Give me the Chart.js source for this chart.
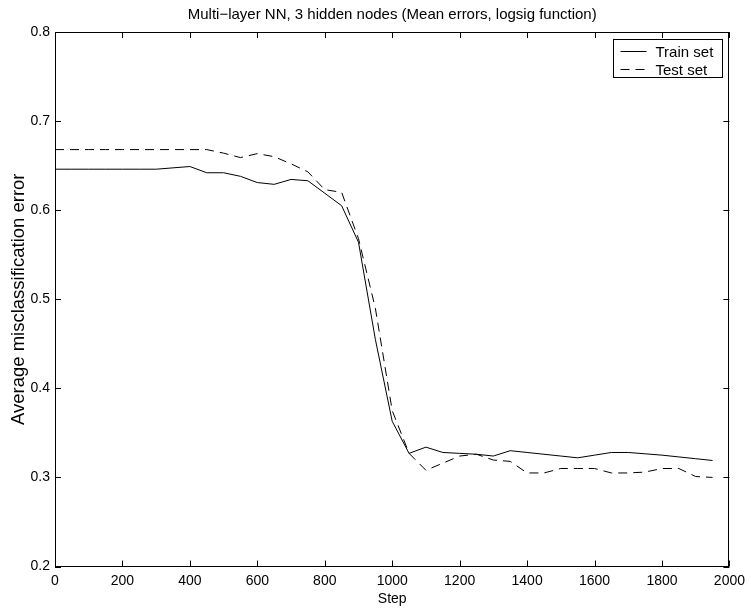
<!DOCTYPE html>
<html>
<head>
<meta charset="utf-8">
<script src="https://cdn.jsdelivr.net/npm/chart.js@4.4.1/dist/chart.umd.min.js"></script>
<style>
  html, body { margin: 0; padding: 0; background: #fff; }
  #wrap { width: 751px; height: 610px; }
</style>
</head>
<body>
<div id="wrap"><canvas id="nnChart" width="751" height="610"></canvas></div>
<script>
const steps = [0, 50, 100, 150, 200, 250, 300, 350, 400, 450,
               500, 550, 600, 650, 700, 750, 800, 850, 900, 950,
               1000, 1050, 1100, 1150, 1200, 1250, 1300, 1350, 1400, 1450,
               1500, 1550, 1600, 1650, 1700, 1750, 1800, 1850, 1900, 1950];

const trainErr = [0.646, 0.646, 0.646, 0.646, 0.646, 0.646, 0.646, 0.6475, 0.649, 0.642,
                  0.642, 0.638, 0.631, 0.629, 0.6345, 0.633, 0.619, 0.605, 0.564, 0.455,
                  0.363, 0.327, 0.334, 0.328, 0.327, 0.326, 0.324, 0.330, 0.328, 0.326,
                  0.324, 0.322, 0.325, 0.328, 0.328, 0.3265, 0.325, 0.323, 0.321, 0.319];

const testErr = [0.668, 0.668, 0.668, 0.668, 0.668, 0.668, 0.668, 0.668, 0.668, 0.668,
                 0.664, 0.659, 0.6635, 0.660, 0.652, 0.643, 0.623, 0.620, 0.568, 0.49,
                 0.375, 0.327, 0.308, 0.316, 0.324, 0.326, 0.3195, 0.318, 0.305, 0.305,
                 0.31, 0.31, 0.31, 0.305, 0.305, 0.306, 0.31, 0.31, 0.301, 0.300];

const xTicks = [0, 200, 400, 600, 800, 1000, 1200, 1400, 1600, 1800, 2000];
const yTicks = [0.2, 0.3, 0.4, 0.5, 0.6, 0.7, 0.8];

const titleText = "Multi\u2212layer NN, 3 hidden nodes (Mean errors, logsig function)";
const fontFamily = "'Liberation Sans', Arial, Helvetica, sans-serif";
const fontSize = 14;

// title centred over the axes (matlab style), box around the axes,
// inward ticks on all four sides and the legend box
const boxTicks = {
    id: "boxTicks",
    afterDraw(chart) {
        const { ctx, chartArea: a, scales } = chart;
        const len = 6;
        ctx.save();

        ctx.fillStyle = "#000";
        ctx.font = "15px " + fontFamily;
        ctx.textAlign = "center";
        ctx.textBaseline = "alphabetic";
        ctx.fillText(titleText, (a.left + a.right) / 2, 18.5);

        ctx.strokeStyle = "#000";
        ctx.lineWidth = 1;
        ctx.strokeRect(Math.round(a.left) + 0.5, Math.round(a.top) + 0.5,
                       Math.round(a.right - a.left) - 1, Math.round(a.bottom - a.top) - 1);
        ctx.beginPath();
        xTicks.forEach(v => {
            const px = Math.round(scales.x.getPixelForValue(v)) + 0.5;
            ctx.moveTo(px, a.bottom); ctx.lineTo(px, a.bottom - len);
            ctx.moveTo(px, a.top); ctx.lineTo(px, a.top + len);
        });
        yTicks.forEach(v => {
            const py = Math.round(scales.y.getPixelForValue(v)) + 0.5;
            ctx.moveTo(a.left, py); ctx.lineTo(a.left + len, py);
            ctx.moveTo(a.right, py); ctx.lineTo(a.right - len, py);
        });
        ctx.stroke();

        // legend box in the upper right corner
        const ds = chart.data.datasets;
        ctx.font = "15px " + fontFamily;
        const rowH = 18.6;
        const boxW = 109, boxH = 38;
        const bx = Math.round(a.right - 7 - boxW) + 0.5;
        const by = Math.round(a.top + 7) + 0.5;
        ctx.fillStyle = "#fff";
        ctx.fillRect(bx, by, boxW, boxH);
        ctx.strokeRect(bx, by, boxW, boxH);
        ds.forEach((d, i) => {
            const y = Math.round(by + 11 + i * rowH) + 0.5;
            ctx.beginPath();
            ctx.setLineDash(d.borderDash || []);
            ctx.moveTo(bx + 7, y);
            ctx.lineTo(bx + 33, y);
            ctx.stroke();
            ctx.setLineDash([]);
            ctx.fillStyle = "#000";
            ctx.textBaseline = "middle";
            ctx.textAlign = "left";
            ctx.fillText(d.label, bx + 42, y + 1);
        });
        ctx.restore();
    }
};

const ctx = document.getElementById("nnChart").getContext("2d");

new Chart(ctx, {
    type: "line",
    data: {
        labels: steps,
        datasets: [
            {
                label: "Train set",
                data: steps.map((s, i) => ({ x: s, y: trainErr[i] })),
                borderColor: "#000",
                borderWidth: 1,
                pointRadius: 0,
                tension: 0,
                fill: false
            },
            {
                label: "Test set",
                data: steps.map((s, i) => ({ x: s, y: testErr[i] })),
                borderColor: "#000",
                borderWidth: 1,
                borderDash: [9, 6],
                pointRadius: 0,
                tension: 0,
                fill: false
            }
        ]
    },
    options: {
        responsive: false,
        animation: false,
        layout: { padding: { top: 32, right: 18, bottom: 0, left: 0 } },
        plugins: {
            legend: { display: false },
            tooltip: { enabled: false },
            title: { display: false }
        },
        scales: {
            x: {
                type: "linear",
                min: 0,
                max: 2000,
                afterFit: s => { s.height = 43.5; },
                afterBuildTicks: s => { s.ticks = xTicks.map(v => ({ value: v })); },
                grid: { display: false, drawTicks: false },
                border: { display: false },
                ticks: {
                    color: "#000",
                    padding: 6,
                    maxRotation: 0,
                    font: { family: fontFamily, size: fontSize },
                    callback: v => String(v)
                },
                title: {
                    display: true,
                    text: "Step",
                    color: "#000",
                    font: { family: fontFamily, size: fontSize },
                    padding: { top: 0, bottom: 2.6 }
                }
            },
            y: {
                type: "linear",
                min: 0.2,
                max: 0.8,
                afterFit: s => { s.width = 55; },
                afterBuildTicks: s => { s.ticks = yTicks.map(v => ({ value: v })); },
                grid: { display: false, drawTicks: false },
                border: { display: false },
                ticks: {
                    color: "#000",
                    padding: 5,
                    font: { family: fontFamily, size: fontSize },
                    callback: v => v.toFixed(1)
                },
                title: {
                    display: true,
                    text: "Average misclassification error",
                    color: "#000",
                    font: { family: fontFamily, size: 18.5 },
                    padding: { top: 7.5, bottom: 0 }
                }
            }
        }
    },
    plugins: [boxTicks]
});
</script>
</body>
</html>
